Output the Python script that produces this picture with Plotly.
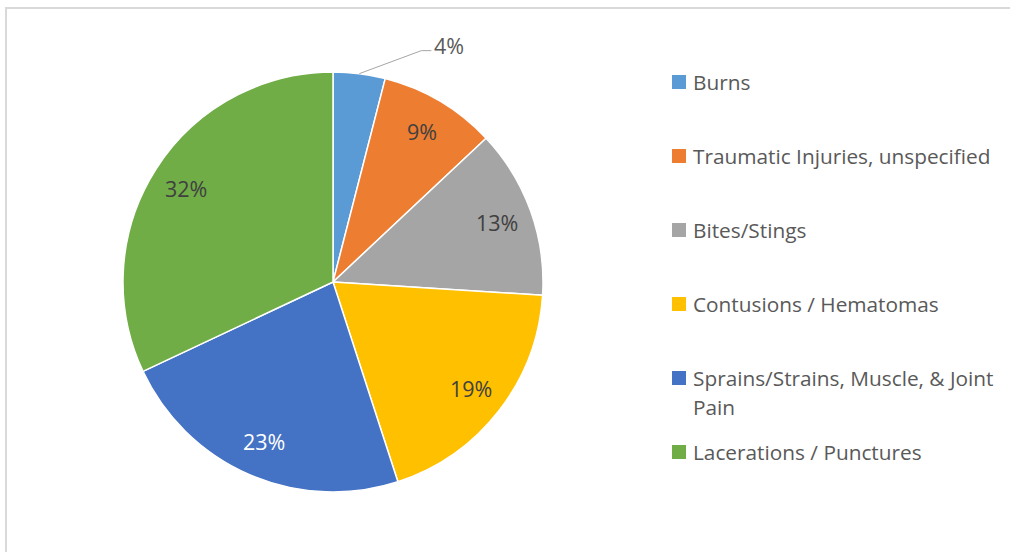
import math
import plotly.graph_objects as go

# ---- data ----
labels = ["Burns", "Traumatic Injuries, unspecified", "Bites/Stings",
          "Contusions / Hematomas", "Sprains/Strains, Muscle, & Joint Pain",
          "Lacerations / Punctures"]
legend_lines = [["Burns"], ["Traumatic Injuries, unspecified"], ["Bites/Stings"],
                ["Contusions / Hematomas"], ["Sprains/Strains, Muscle, & Joint", "Pain"],
                ["Lacerations / Punctures"]]
values = [4, 9, 13, 19, 23, 32]
colors = ["#5B9BD5", "#ED7D31", "#A5A5A5", "#FFC000", "#4472C4", "#70AD47"]
label_colors = ["#595959", "#404040", "#404040", "#404040", "#FFFFFF", "#404040"]

W, H = 1010, 552
CX, CY, R = 333, 282, 210          # pie geometry in pixels
FONT = "Open Sans"
LBL_SIZE = 21.5
LEG_SIZE = 20.8


def px(x):
    return x / W


def py(y):
    return 1 - y / H


fig = go.Figure()
fig.add_trace(go.Pie(
    labels=labels, values=values, sort=False, direction="clockwise",
    rotation=0, marker=dict(colors=colors, line=dict(color="white", width=1.5)),
    textinfo="none", hoverinfo="label+percent", showlegend=False,
    domain=dict(x=[px(CX - R), px(CX + R)], y=[py(CY + R), py(CY - R)]),
))

annotations = []
shapes = []
total = sum(values)
cum = 0
for i, v in enumerate(values):
    mid = (cum + v / 2) / total * 2 * math.pi
    cum += v
    pct = f"{round(v / total * 100)}%"
    if i == 0:
        # outside label with leader line
        ex, ey = CX + R * math.sin(mid), CY - R * math.cos(mid)
        elx, ely = ex + 62, ey - 23
        tx, ty = elx + 28, ely - 5
        shapes.append(dict(type="path", xref="paper", yref="paper",
                           path=f"M {px(ex)} {py(ey)} L {px(elx)} {py(ely)} L {px(elx + 10)} {py(ely)}",
                           line=dict(color="#A6A6A6", width=1)))
        annotations.append(dict(x=px(tx), y=py(ty), xref="paper", yref="paper",
                                text=pct, showarrow=False, xanchor="center", yanchor="middle",
                                font=dict(family=FONT, size=LBL_SIZE, color=label_colors[i])))
    else:
        rr = 0.83 * R
        lx, ly = CX + rr * math.sin(mid), CY - rr * math.cos(mid)
        annotations.append(dict(x=px(lx), y=py(ly), xref="paper", yref="paper",
                                text=pct, showarrow=False, xanchor="center", yanchor="middle",
                                font=dict(family=FONT, size=LBL_SIZE, color=label_colors[i])))

# custom legend
LEG_X, LEG_Y0, LEG_DY, LINE_DY, SQ = 672, 82, 74, 29, 14
for i, lines in enumerate(legend_lines):
    yc = LEG_Y0 + i * LEG_DY
    shapes.append(dict(type="rect", xref="paper", yref="paper",
                       x0=px(LEG_X), x1=px(LEG_X + SQ), y0=py(yc - SQ / 2), y1=py(yc + SQ / 2),
                       fillcolor=colors[i], line=dict(width=0)))
    for k, t in enumerate(lines):
        annotations.append(dict(x=px(LEG_X + SQ + 5), y=py(yc + k * LINE_DY), xref="paper", yref="paper",
                                text=t, showarrow=False, xanchor="left", yanchor="middle",
                                font=dict(family=FONT, size=LEG_SIZE, color="#595959")))

# chart frame
shapes.append(dict(type="rect", xref="paper", yref="paper",
                   x0=px(6), x1=px(W + 10), y0=py(H + 10), y1=py(8),
                   line=dict(color="#D9D9D9", width=2), fillcolor="rgba(0,0,0,0)", layer="below"))

fig.update_layout(
    width=W, height=H, margin=dict(l=0, r=0, t=0, b=0),
    paper_bgcolor="white", plot_bgcolor="white",
    annotations=annotations, shapes=shapes, showlegend=False,
)
fig.write_html("out.html", config={"displayModeBar": False},
               post_script="document.body.style.margin='0';document.body.style.overflow='hidden';")
